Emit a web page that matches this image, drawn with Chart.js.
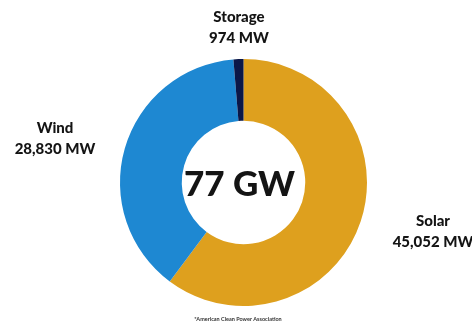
<!DOCTYPE html>
<html>
<head>
<meta charset="utf-8">
<script src="https://cdn.jsdelivr.net/npm/chart.js@4/dist/chart.umd.min.js"></script>
<style>
  html, body { margin: 0; padding: 0; background: #fff; }
  #wrap { width: 472px; height: 325px; }
</style>
</head>
<body>
<div id="wrap"><canvas id="capacity"></canvas></div>
<script>
// installed capacity by source, MW
const sources = ['Solar', 'Wind', 'Storage'];
const capacityMW = [45052, 28830, 974];
const totalLabel = '77 GW';
const sourceNote = '*American Clean Power Association';

const colors = ['#dea01e', '#1e88d2', '#0b1748'];

// where each source's caption sits
const labelSpots = {
  Solar: { x: 433, y: 221 },
  Wind: { x: 55, y: 128 },
  Storage: { x: 239, y: 17 }
};

const fmt = n => n.toLocaleString('en-US') + ' MW';

const captions = {
  id: 'captions',
  afterDraw(chart) {
    const ctx = chart.ctx;
    const arc = chart.getDatasetMeta(0).data[0];
    ctx.save();
    ctx.fillStyle = '#141414';
    ctx.textAlign = 'center';
    ctx.textBaseline = 'middle';

    sources.forEach((name, i) => {
      const p = labelSpots[name];
      ctx.font = '900 15px Lato';
      ctx.fillText(name, p.x, p.y);
      ctx.fillText(fmt(capacityMW[i]), p.x, p.y + 21);
    });

    // total in the hole
    ctx.font = '900 35px Lato';
    ctx.fillText(totalLabel, arc.x - 4, arc.y + 2);

    ctx.font = 'bold 5.5px Lato';
    ctx.fillStyle = '#333';
    ctx.fillText(sourceNote, 238, 319);
    ctx.restore();
  }
};

new Chart(document.getElementById('capacity'), {
  type: 'doughnut',
  data: {
    labels: sources,
    datasets: [{
      data: capacityMW,
      backgroundColor: colors,
      borderWidth: 0
    }]
  },
  options: {
    responsive: true,
    maintainAspectRatio: false,
    animation: false,
    cutout: '50%',
    layout: { padding: { top: 59, bottom: 19, left: 120, right: 105 } },
    plugins: {
      legend: { display: false },
      tooltip: { enabled: false }
    }
  },
  plugins: [captions]
});
</script>
</body>
</html>
